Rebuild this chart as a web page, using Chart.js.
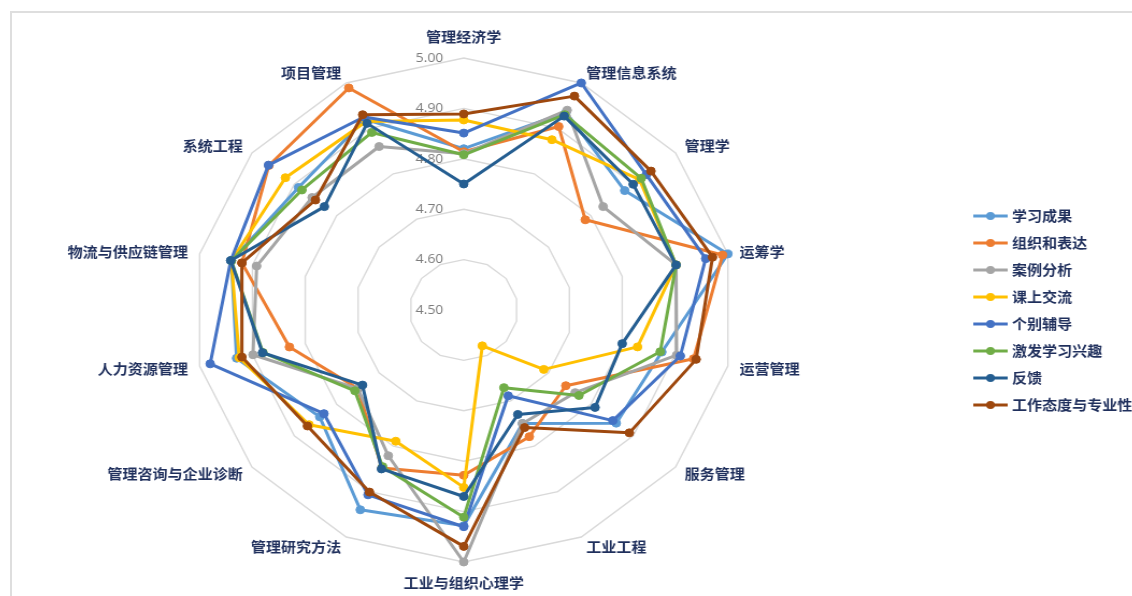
<!DOCTYPE html>
<html>
<head>
<meta charset="utf-8">
<script src="https://cdn.jsdelivr.net/npm/chart.js@4.4.1/dist/chart.umd.min.js"></script>
<style>
  html, body { margin: 0; padding: 0; background: #fff; overflow: hidden; }
  body { width: 1132px; height: 596px; position: relative; }
  .frame {
    position: absolute; left: 10px; top: 11px;
    width: 1200px; height: 700px;
    border: 2px solid #dedede;
  }
  /* the original picture is a bit wider than tall, so stretch the canvas */
  #radar { position: absolute; left: -34px; top: 0; transform: scaleX(1.075); transform-origin: 0 0; }
</style>
</head>
<body>
<div class="frame"></div>
<canvas id="radar" width="1095" height="596"></canvas>
<script>
const subjects = [
  "管理经济学", "管理信息系统", "管理学", "运筹学", "运营管理", "服务管理", "工业工程",
  "工业与组织心理学", "管理研究方法", "管理咨询与企业诊断", "人力资源管理",
  "物流与供应链管理", "系统工程", "项目管理"
];
const tickValues = [4.5, 4.6, 4.7, 4.8, 4.9, 5.0];

const seriesNames = ["学习成果", "组织和表达", "案例分析", "课上交流", "个别辅导", "激发学习兴趣", "反馈", "工作态度与专业性"];
const seriesColors = ["#5b9bd5", "#ed7d31", "#a5a5a5", "#ffc000", "#4472c4", "#70ad47", "#255e91", "#9e480e"];

const learningResults = [4.82, 4.935, 4.88, 5.00, 4.875, 4.86, 4.75, 4.928, 4.94, 4.84, 4.93, 4.94, 4.89, 4.92];
const expression      = [4.814, 4.904, 4.787, 4.99, 4.935, 4.741, 4.779, 4.828, 4.848, 4.75, 4.83, 4.92, 4.96, 4.989];
const caseAnalysis    = [4.81, 4.94, 4.829, 4.902, 4.903, 4.763, 4.75, 5.00, 4.821, 4.75, 4.899, 4.892, 4.858, 4.86];
const classTalk       = [4.877, 4.875, 4.915, 4.902, 4.829, 4.689, 4.579, 4.852, 4.789, 4.865, 4.925, 4.94, 4.921, 4.915];
const tutoring        = [4.851, 5.00, 4.931, 4.958, 4.91, 4.852, 4.689, 4.93, 4.907, 4.83, 4.98, 4.941, 4.961, 4.925];
const motivation      = [4.808, 4.93, 4.919, 4.902, 4.872, 4.772, 4.671, 4.911, 4.845, 4.757, 4.88, 4.94, 4.882, 4.891];
const feedback        = [4.75, 4.927, 4.90, 4.902, 4.80, 4.81, 4.73, 4.87, 4.85, 4.739, 4.881, 4.941, 4.829, 4.911];
const attitude        = [4.889, 4.971, 4.942, 4.971, 4.94, 4.891, 4.759, 4.969, 4.901, 4.869, 4.92, 4.92, 4.85, 4.93];

const seriesValues = [learningResults, expression, caseAnalysis, classTalk, tutoring, motivation, feedback, attitude];

const labelFont = "bold 14px 'Noto Sans CJK SC', sans-serif";
const labelColor = "#1f2f5c";

function legendSwatch(color) {
  const c = document.createElement("canvas");
  c.width = 32;
  c.height = 10;
  const g = c.getContext("2d");
  g.strokeStyle = color;
  g.lineWidth = 3;
  g.beginPath();
  g.moveTo(0, 5);
  g.lineTo(32, 5);
  g.stroke();
  g.fillStyle = color;
  g.beginPath();
  g.arc(16, 5, 4, 0, Math.PI * 2);
  g.fill();
  return c;
}
const swatches = seriesColors.map(legendSwatch);

// tick values and subject names, placed the way the original spreadsheet does it
const radarText = {
  id: "radarText",
  beforeDatasetsDraw(chart) {
    const scale = chart.scales.r;
    const { ctx } = chart;
    ctx.save();
    ctx.font = "13px 'Open Sans', sans-serif";
    ctx.fillStyle = "#7b7b7b";
    ctx.textAlign = "right";
    ctx.textBaseline = "middle";
    tickValues.forEach((v) => {
      const r = scale.getDistanceFromCenterForValue(v);
      ctx.fillText(v.toFixed(2), scale.xCenter - 19, scale.yCenter - r);
    });
    ctx.restore();
  },
  afterDraw(chart) {
    const scale = chart.scales.r;
    const { ctx } = chart;
    const outer = scale.drawingArea;
    ctx.save();
    ctx.font = labelFont;
    ctx.fillStyle = labelColor;
    ctx.textBaseline = "middle";
    subjects.forEach((name, i) => {
      let pos = scale.getPointPosition(i, outer + 11);
      if (Math.abs(pos.x - scale.xCenter) < 1) {
        pos = scale.getPointPosition(i, outer + 21);
        ctx.textAlign = "center";
      } else {
        ctx.textAlign = pos.x > scale.xCenter ? "left" : "right";
      }
      ctx.fillText(name, pos.x, pos.y);
    });
    ctx.restore();
  }
};

const datasets = seriesNames.map((name, i) => ({
  label: name,
  data: seriesValues[i],
  borderColor: seriesColors[i],
  backgroundColor: seriesColors[i],
  pointBackgroundColor: seriesColors[i],
  pointBorderColor: seriesColors[i],
  borderWidth: 3,
  pointRadius: 4,
  pointBorderWidth: 1,
  borderJoinStyle: "round",
  fill: false,
  tension: 0,
  order: seriesNames.length - i,
}));

new Chart(document.getElementById("radar"), {
  type: "radar",
  data: { labels: subjects, datasets },
  options: {
    responsive: false,
    animation: false,
    layout: { padding: { left: 0, right: 0, top: 58, bottom: 33 } },
    plugins: {
      tooltip: { enabled: false },
      legend: {
        position: "right",
        labels: {
          usePointStyle: true,
          pointStyleWidth: 26,
          padding: 13,
          color: labelColor,
          font: { family: "'Noto Sans CJK SC', sans-serif", size: 14, weight: "bold" },
          sort: (a, b) => a.datasetIndex - b.datasetIndex,
          generateLabels(chart) {
            const items = Chart.defaults.plugins.legend.labels.generateLabels(chart);
            items.forEach((item) => {
              item.pointStyle = swatches[item.datasetIndex];
            });
            return items;
          },
        },
      },
    },
    scales: {
      r: {
        min: 4.5,
        max: 5.0,
        ticks: { stepSize: 0.1, display: false },
        grid: { color: "#d9d9d9", lineWidth: 1.4 },
        angleLines: { display: false },
        pointLabels: { display: false },
      },
    },
  },
  plugins: [radarText],
});
</script>
</body>
</html>
